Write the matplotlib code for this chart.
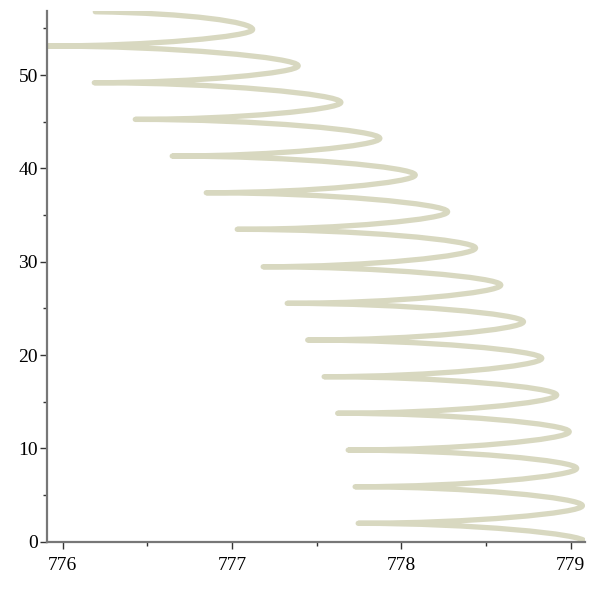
import matplotlib
matplotlib.use("Agg")
import matplotlib.pyplot as plt
from matplotlib.path import Path
from matplotlib.patches import PathPatch
from matplotlib.ticker import MultipleLocator

# right-hand turning points (vertical tangent)
max_x = [779.084, 779.069, 779.035, 778.991, 778.917, 778.829, 778.721, 778.587,
         778.438, 778.273, 778.082, 777.873, 777.643, 777.391, 777.122]
max_y = [0.0, 3.86, 7.86, 11.78, 15.72, 19.65, 23.57, 27.50,
         31.47, 35.35, 39.29, 43.22, 47.07, 50.99, 54.88]
# left-hand cusps
cusp_x = [777.745, 777.727, 777.686, 777.624, 777.544, 777.447, 777.326,
          777.184, 777.031, 776.848, 776.647, 776.429, 776.187, 775.908]
cusp_y = [1.97, 5.89, 9.82, 13.76, 17.68, 21.61, 25.54,
          29.46, 33.47, 37.39, 41.32, 45.25, 49.18, 53.11]
# last point of the curve
end_x, end_y = 776.193, 56.78

LINE = "#d8d8c0"
A, B = 0.5, 0.42  # bezier handle fractions

verts = [(max_x[0], max_y[0])]
codes = [Path.MOVETO]
for i in range(len(cusp_x)):
    # max -> cusp
    dx = max_x[i] - cusp_x[i]
    dy = cusp_y[i] - max_y[i]
    verts += [(max_x[i], max_y[i] + B * dy), (cusp_x[i] + A * dx, cusp_y[i]), (cusp_x[i], cusp_y[i])]
    codes += [Path.CURVE4] * 3
    # cusp -> next max
    dx = max_x[i + 1] - cusp_x[i]
    dy = max_y[i + 1] - cusp_y[i]
    verts += [(cusp_x[i] + A * dx, cusp_y[i]), (max_x[i + 1], max_y[i + 1] - B * dy), (max_x[i + 1], max_y[i + 1])]
    codes += [Path.CURVE4] * 3
# final partial turn
dx = max_x[-1] - end_x
dy = end_y - max_y[-1]
verts += [(max_x[-1], max_y[-1] + B * dy), (end_x + 0.6 * dx, end_y - 0.08 * dy), (end_x, end_y)]
codes += [Path.CURVE4] * 3

fig = plt.figure(figsize=(5.96, 5.96), dpi=100)
ax = fig.add_axes([0.0789, 0.0911, 0.9026, 0.8904])
ax.add_patch(PathPatch(Path(verts, codes), facecolor="none", edgecolor=LINE, lw=3.8,
                       capstyle="round", joinstyle="round"))
ax.set_xlim(775.908, 779.084)
ax.set_ylim(0, 56.86)

for s in ["top", "right"]:
    ax.spines[s].set_visible(False)
for s in ["left", "bottom"]:
    ax.spines[s].set_color("#777777")
    ax.spines[s].set_linewidth(1.6)

ax.xaxis.set_major_locator(MultipleLocator(1))
ax.xaxis.set_minor_locator(MultipleLocator(0.5))
ax.yaxis.set_major_locator(MultipleLocator(10))
ax.yaxis.set_minor_locator(MultipleLocator(5))
ax.tick_params(which="major", length=5, width=1, color="#333333", direction="out",
               labelsize=14, pad=1.5)
ax.tick_params(which="minor", length=3, width=1, color="#333333", direction="out")
ax.tick_params(axis="x", which="major", pad=6)
for lab in ax.get_xticklabels() + ax.get_yticklabels():
    lab.set_fontfamily("Liberation Serif")

fig.savefig("out.png", dpi=100)
